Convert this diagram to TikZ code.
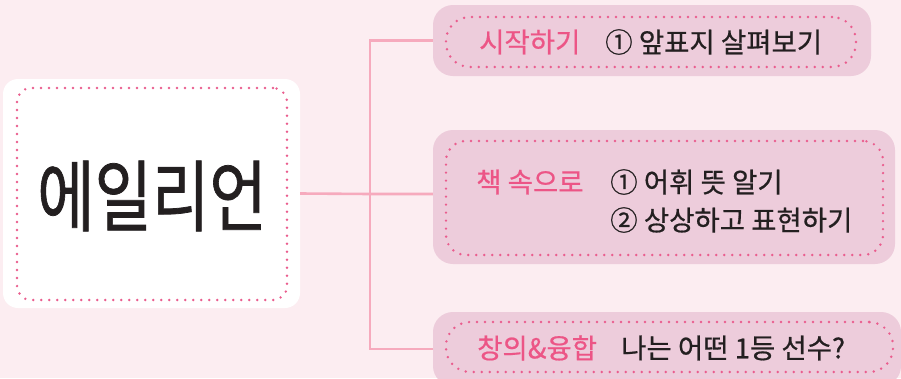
\documentclass[tikz,border=0pt]{standalone}
\usepackage{fontspec}
\setmainfont{Noto Sans CJK KR}
\newfontfamily\kr[FakeBold=0.6]{Noto Sans CJK KR}
\newfontfamily\krt[FakeBold=1.0]{Noto Sans CJK KR}
\definecolor{bgc}{HTML}{FCEDF1}
\definecolor{boxc}{HTML}{EDCCDB}
\definecolor{dotc}{HTML}{EA5D8E}
\definecolor{linec}{HTML}{F6AABD}
\definecolor{pinkt}{HTML}{EC5586}
\definecolor{darkt}{HTML}{231F20}
\tikzset{
  box/.style={draw=none, fill=boxc, rounded corners=20pt, inner sep=0pt},
  dotbox/.style={draw=dotc, line width=2.7pt, line cap=round, dash pattern=on 0pt off 8pt, rounded corners=20pt, inner sep=0pt},
  conn/.style={draw=linec, line width=2.6pt},
  ptxt/.style={anchor=west, inner sep=0pt, text=pinkt, font=\kr\fontsize{27.5}{32}\selectfont},
  dtxt/.style={anchor=west, inner sep=0pt, text=darkt, font=\kr\fontsize{27.5}{32}\selectfont},
}
\begin{document}
\begin{tikzpicture}[x=1pt,y=-1pt]
\fill[bgc] (0,0) rectangle (901,378);
\useasboundingbox (0,0) rectangle (901,378);
% main box
\node[box, fill=white, rounded corners=15pt, minimum width=297pt, minimum height=229pt] (main) at (151.5,193.5) {};
\node[dotbox, rounded corners=14pt, minimum width=270pt, minimum height=212pt] (maind) at (152,194) {};
\node[inner sep=0pt, text=darkt] (title) at (152,196) {\scalebox{0.8}[1]{\krt\fontsize{78}{90}\selectfont 에일리언}};
% branch boxes
\node[box, minimum width=438pt, minimum height=71pt] (b1) at (652,40.5) {};
\node[dotbox, rounded corners=24pt, minimum width=410pt, minimum height=50pt] (d1) at (651,42) {};
\node[box, minimum width=462pt, minimum height=134pt] (b2) at (664,197) {};
\node[dotbox, minimum width=437pt, minimum height=114pt] (d2) at (664.5,198) {};
\node[box, minimum width=468pt, minimum height=74pt] (b3) at (667,349) {};
\node[dotbox, rounded corners=24pt, minimum width=447pt, minimum height=50pt] (d3) at (669.5,347) {};
% connectors
\coordinate (j) at (370,194);
\draw[conn] (main.east) -- (j) -- (j -| b2.west);
\draw[conn] (b1.west) -| (j) |- (b3.west);
% texts
\node[ptxt] (t1a) at (479,42) {시작하기};
\node[dtxt] (t1b) at (605,42) {① 앞표지 살펴보기};
\node[ptxt] (t2a) at (476,182) {책 속으로};
\node[dtxt] (t2b) at (610,182) {① 어휘 뜻 알기};
\node[dtxt] (t2c) at (610,220) {② 상상하고 표현하기};
\node[ptxt] (t3a) at (477,348) {창의\&융합};
\node[dtxt] (t3b) at (621,348) {나는 어떤 1등 선수?};
\end{tikzpicture}
\end{document}
